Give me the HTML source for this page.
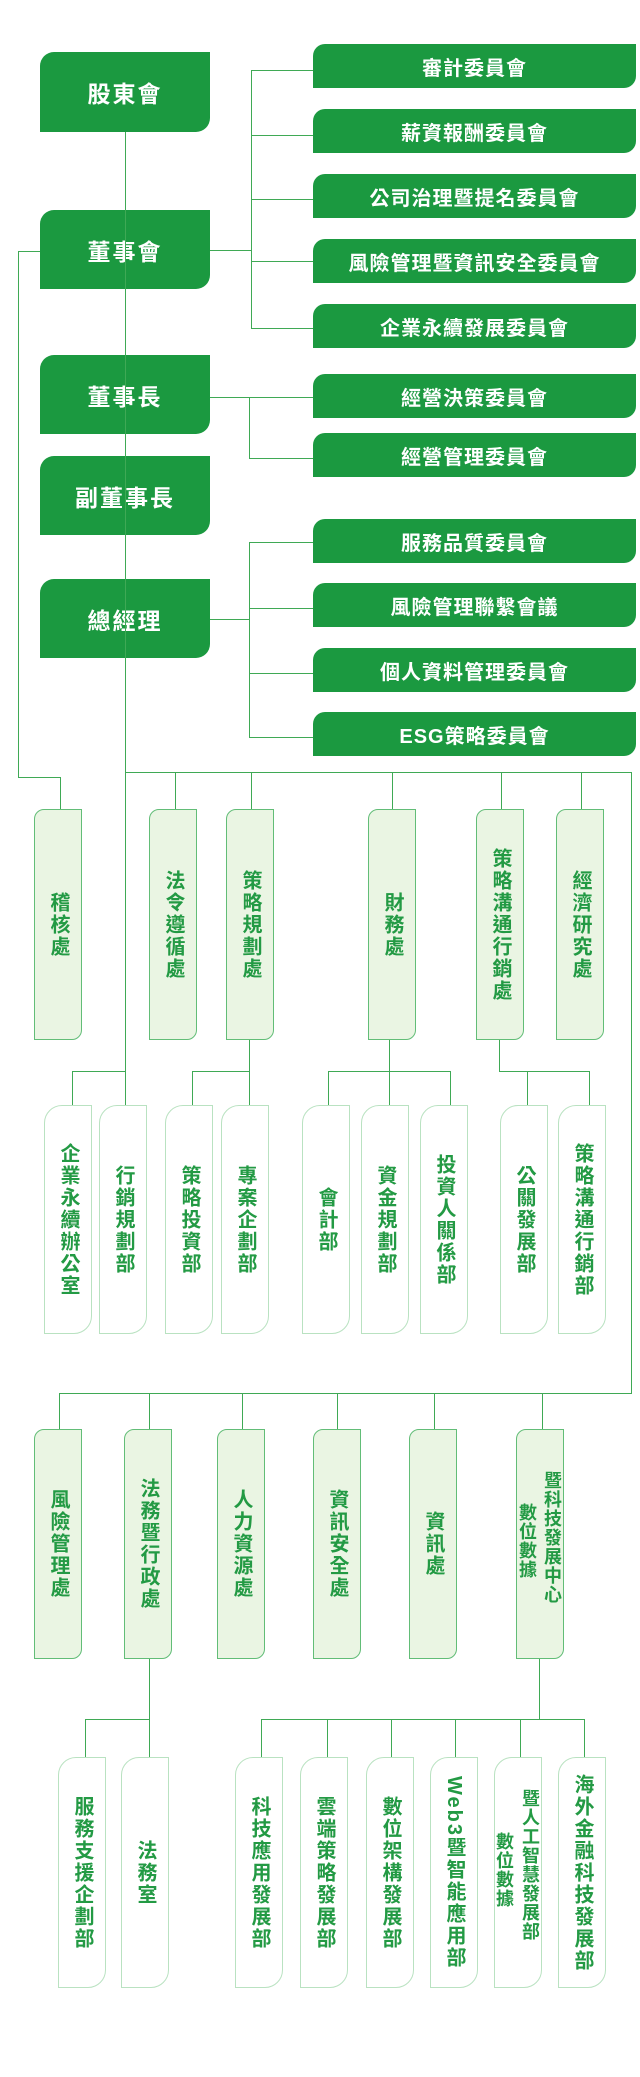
<!DOCTYPE html>
<html><head><meta charset="utf-8">
<style>
*{margin:0;padding:0;box-sizing:border-box}
body{width:640px;height:2077px;background:#fff;position:relative;overflow:hidden;font-family:"Liberation Sans","Noto Sans CJK TC",sans-serif}
.l{position:absolute;background:#3fa955}
.h{height:1px}.v{width:1px}
.m{position:absolute;background:#1b9940;color:#fff;font-weight:bold;display:flex;align-items:center;justify-content:center;border-radius:14px 0 14px 0;font-size:23px;letter-spacing:2px}
.c{position:absolute;left:313px;width:323px;height:44px;background:#1b9940;color:#fff;font-weight:bold;display:flex;align-items:center;justify-content:center;border-radius:12px 0 12px 0;font-size:20px;letter-spacing:1px}
.b{position:absolute;display:flex;align-items:center;justify-content:center;color:#239a44;font-weight:bold;font-size:20px;letter-spacing:2px;writing-mode:vertical-rl;line-height:26px}
.p{background:#eaf5e3;border:1px solid #62bd77;border-radius:10px 0 10px 0;width:48px}
.w{background:#fff;border:1px solid #b9e2c1;border-radius:18px 0 18px 0;width:48px}
.t{position:absolute;writing-mode:vertical-rl;color:#239a44;font-weight:bold;font-size:18px;line-height:20px;letter-spacing:1px}
</style></head><body>
<!-- main boxes -->
<div class="m" style="left:40px;top:52px;width:170px;height:80px">股東會</div>
<div class="m" style="left:40px;top:210px;width:170px;height:79px">董事會</div>
<div class="m" style="left:40px;top:355px;width:170px;height:79px">董事長</div>
<div class="m" style="left:40px;top:456px;width:170px;height:79px">副董事長</div>
<div class="m" style="left:40px;top:579px;width:170px;height:79px">總經理</div>
<!-- committees -->
<div class="c" style="top:44px">審計委員會</div>
<div class="c" style="top:109px">薪資報酬委員會</div>
<div class="c" style="top:174px">公司治理暨提名委員會</div>
<div class="c" style="top:239px">風險管理暨資訊安全委員會</div>
<div class="c" style="top:304px">企業永續發展委員會</div>
<div class="c" style="top:374px">經營決策委員會</div>
<div class="c" style="top:433px">經營管理委員會</div>
<div class="c" style="top:519px">服務品質委員會</div>
<div class="c" style="top:583px">風險管理聯繫會議</div>
<div class="c" style="top:648px">個人資料管理委員會</div>
<div class="c" style="top:712px">ESG策略委員會</div>
<!-- main vertical -->
<div class="l v" style="left:125px;top:132px;height:973px"></div>
<!-- 董事會 connectors -->
<div class="l h" style="left:210px;top:250px;width:41px"></div>
<div class="l v" style="left:251px;top:70px;height:259px"></div>
<div class="l h" style="left:251px;top:70px;width:62px"></div>
<div class="l h" style="left:251px;top:135px;width:62px"></div>
<div class="l h" style="left:251px;top:199px;width:62px"></div>
<div class="l h" style="left:251px;top:261px;width:62px"></div>
<div class="l h" style="left:251px;top:328px;width:62px"></div>
<!-- 董事長 -->
<div class="l h" style="left:210px;top:397px;width:103px"></div>
<div class="l v" style="left:249px;top:397px;height:62px"></div>
<div class="l h" style="left:249px;top:458px;width:64px"></div>
<!-- 總經理 -->
<div class="l h" style="left:210px;top:619px;width:39px"></div>
<div class="l v" style="left:249px;top:542px;height:196px"></div>
<div class="l h" style="left:249px;top:542px;width:64px"></div>
<div class="l h" style="left:249px;top:608px;width:64px"></div>
<div class="l h" style="left:249px;top:673px;width:64px"></div>
<div class="l h" style="left:249px;top:737px;width:64px"></div>
<!-- left audit line -->
<div class="l h" style="left:18px;top:251px;width:22px"></div>
<div class="l v" style="left:18px;top:251px;height:526px"></div>
<div class="l h" style="left:18px;top:777px;width:42px"></div>
<div class="l v" style="left:60px;top:777px;height:32px"></div>
<!-- row1 bus -->
<div class="l h" style="left:125px;top:772px;width:507px"></div>
<div class="l v" style="left:631px;top:772px;height:622px"></div>
<div class="l v" style="left:175px;top:772px;height:37px"></div>
<div class="l v" style="left:251px;top:772px;height:37px"></div>
<div class="l v" style="left:392px;top:772px;height:37px"></div>
<div class="l v" style="left:501px;top:772px;height:37px"></div>
<div class="l v" style="left:581px;top:772px;height:37px"></div>
<!-- row1 boxes -->
<div class="b p" style="left:34px;top:809px;height:231px">稽核處</div>
<div class="b p" style="left:149px;top:809px;height:231px">法令遵循處</div>
<div class="b p" style="left:226px;top:809px;height:231px">策略規劃處</div>
<div class="b p" style="left:368px;top:809px;height:231px">財務處</div>
<div class="b p" style="left:476px;top:809px;height:231px">策略溝通行銷處</div>
<div class="b p" style="left:556px;top:809px;height:231px">經濟研究處</div>
<!-- row2 connectors -->
<div class="l h" style="left:72px;top:1071px;width:53px"></div>
<div class="l v" style="left:72px;top:1071px;height:34px"></div>
<div class="l v" style="left:249px;top:1040px;height:65px"></div>
<div class="l h" style="left:192px;top:1071px;width:57px"></div>
<div class="l v" style="left:192px;top:1071px;height:34px"></div>
<div class="l v" style="left:389px;top:1040px;height:65px"></div>
<div class="l h" style="left:328px;top:1071px;width:123px"></div>
<div class="l v" style="left:328px;top:1071px;height:34px"></div>
<div class="l v" style="left:450px;top:1071px;height:34px"></div>
<div class="l v" style="left:499px;top:1040px;height:31px"></div>
<div class="l h" style="left:499px;top:1071px;width:91px"></div>
<div class="l v" style="left:527px;top:1071px;height:34px"></div>
<div class="l v" style="left:589px;top:1071px;height:34px"></div>
<!-- row2 boxes -->
<div class="b w" style="left:44px;top:1105px;height:229px">企業永續辦公室</div>
<div class="b w" style="left:99px;top:1105px;height:229px">行銷規劃部</div>
<div class="b w" style="left:165px;top:1105px;height:229px">策略投資部</div>
<div class="b w" style="left:221px;top:1105px;height:229px">專案企劃部</div>
<div class="b w" style="left:302px;top:1105px;height:229px">會計部</div>
<div class="b w" style="left:361px;top:1105px;height:229px">資金規劃部</div>
<div class="b w" style="left:420px;top:1105px;height:229px">投資人關係部</div>
<div class="b w" style="left:500px;top:1105px;height:229px">公關發展部</div>
<div class="b w" style="left:558px;top:1105px;height:229px">策略溝通行銷部</div>
<!-- row3 bus -->
<div class="l h" style="left:59px;top:1393px;width:573px"></div>
<div class="l v" style="left:59px;top:1393px;height:36px"></div>
<div class="l v" style="left:149px;top:1393px;height:36px"></div>
<div class="l v" style="left:242px;top:1393px;height:36px"></div>
<div class="l v" style="left:337px;top:1393px;height:36px"></div>
<div class="l v" style="left:434px;top:1393px;height:36px"></div>
<div class="l v" style="left:542px;top:1393px;height:36px"></div>
<!-- row3 boxes -->
<div class="b p" style="left:34px;top:1429px;height:230px">風險管理處</div>
<div class="b p" style="left:124px;top:1429px;height:230px">法務暨行政處</div>
<div class="b p" style="left:217px;top:1429px;height:230px">人力資源處</div>
<div class="b p" style="left:313px;top:1429px;height:230px">資訊安全處</div>
<div class="b p" style="left:409px;top:1429px;height:230px">資訊處</div>
<div class="b p" style="left:516px;top:1429px;height:230px"></div>
<div class="t" style="left:542px;top:1471px">暨科技發展中心</div>
<div class="t" style="left:517px;top:1503px">數位數據</div>
<!-- row4 connectors -->
<div class="l v" style="left:149px;top:1659px;height:60px"></div>
<div class="l h" style="left:85px;top:1719px;width:64px"></div>
<div class="l v" style="left:85px;top:1719px;height:38px"></div>
<div class="l v" style="left:149px;top:1719px;height:38px"></div>
<div class="l v" style="left:539px;top:1659px;height:60px"></div>
<div class="l h" style="left:261px;top:1719px;width:324px"></div>
<div class="l v" style="left:261px;top:1719px;height:38px"></div>
<div class="l v" style="left:327px;top:1719px;height:38px"></div>
<div class="l v" style="left:391px;top:1719px;height:38px"></div>
<div class="l v" style="left:455px;top:1719px;height:38px"></div>
<div class="l v" style="left:520px;top:1719px;height:38px"></div>
<div class="l v" style="left:584px;top:1719px;height:38px"></div>
<!-- row4 boxes -->
<div class="b w" style="left:58px;top:1757px;height:231px">服務支援企劃部</div>
<div class="b w" style="left:121px;top:1757px;height:231px">法務室</div>
<div class="b w" style="left:235px;top:1757px;height:231px">科技應用發展部</div>
<div class="b w" style="left:300px;top:1757px;height:231px">雲端策略發展部</div>
<div class="b w" style="left:366px;top:1757px;height:231px">數位架構發展部</div>
<div class="b w" style="left:430px;top:1757px;height:231px">Web3暨智能應用部</div>
<div class="b w" style="left:494px;top:1757px;height:231px"></div>
<div class="t" style="left:520px;top:1789px">暨人工智慧發展部</div>
<div class="t" style="left:494px;top:1832px">數位數據</div>
<div class="b w" style="left:558px;top:1757px;height:231px">海外金融科技發展部</div>
</body></html>
